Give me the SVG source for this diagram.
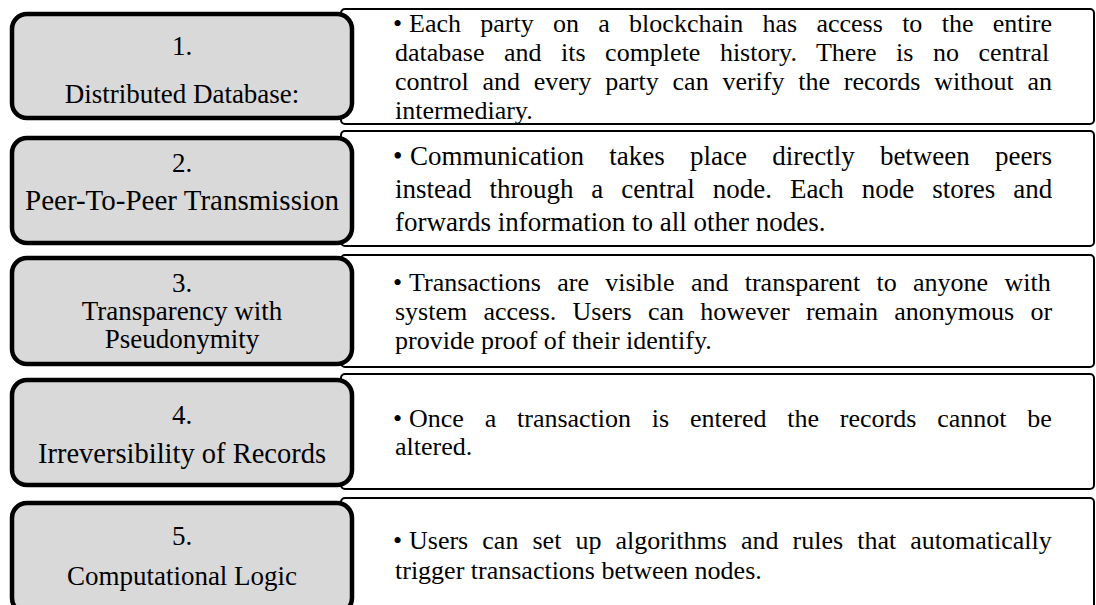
<svg xmlns="http://www.w3.org/2000/svg" width="1096" height="605" viewBox="0 0 1096 605">
<style>
.panel{fill:#ffffff;stroke:#000;stroke-width:2}
.head{fill:#d9d9d9;stroke:#000;stroke-width:4.5}
.ht{font-family:"Liberation Serif","Times New Roman",serif;font-size:27px;fill:#000;text-anchor:middle}
.bt{font-family:"Liberation Serif","Times New Roman",serif;font-size:26px;fill:#000}
.bt2{font-family:"Liberation Serif","Times New Roman",serif;font-size:27px;fill:#000}
</style>
<rect width="1096" height="605" fill="#fff"/>
<g id="item1">
<rect class="panel" x="341" y="9" width="753" height="115" rx="4"/>
<rect class="head" x="12" y="14" width="340" height="104" rx="15"/>
<text class="ht" x="182" y="55">1.</text>
<text class="ht" x="182" y="103">Distributed Database:</text>
<text class="bt" x="393" y="32">•</text>
<text class="bt" x="409" y="32" word-spacing="12.8">Each party on a blockchain has access to the entire</text>
<text class="bt" x="395" y="61" word-spacing="13">database and its complete history. There is no central</text>
<text class="bt" x="395" y="90" word-spacing="7.3">control and every party can verify the records without an</text>
<text class="bt" x="395" y="119">intermediary.</text>
</g>
<g id="item2">
<rect class="panel" x="341" y="131" width="753" height="115" rx="4"/>
<rect class="head" x="12" y="138" width="340" height="105" rx="15"/>
<text class="ht" x="182" y="172">2.</text>
<text class="ht" x="182" y="210" style="font-size:29px">Peer-To-Peer Transmission</text>
<text class="bt2" x="393" y="165">•</text>
<text class="bt2" x="410" y="165" word-spacing="18.5">Communication takes place directly between peers</text>
<text class="bt2" x="395" y="198" word-spacing="11.2">instead through a central node. Each node stores and</text>
<text class="bt2" x="395" y="231">forwards information to all other nodes.</text>
</g>
<g id="item3">
<rect class="panel" x="341" y="255" width="753" height="112" rx="4"/>
<rect class="head" x="12" y="258" width="340" height="106" rx="15"/>
<text class="ht" x="182" y="292">3.</text>
<text class="ht" x="182" y="320">Transparency with</text>
<text class="ht" x="182" y="348">Pseudonymity</text>
<text class="bt" x="393" y="291">•</text>
<text class="bt" x="409" y="291" word-spacing="9.8">Transactions are visible and transparent to anyone with</text>
<text class="bt" x="395" y="320" word-spacing="9.7">system access. Users can however remain anonymous or</text>
<text class="bt" x="395" y="349">provide proof of their identify.</text>
</g>
<g id="item4">
<rect class="panel" x="341" y="374" width="753" height="115" rx="4"/>
<rect class="head" x="12" y="380" width="340" height="105" rx="15"/>
<text class="ht" x="182" y="424">4.</text>
<text class="ht" x="182" y="463" style="font-size:28.5px">Irreversibility of Records</text>
<text class="bt" x="393" y="427">•</text>
<text class="bt" x="409" y="427" word-spacing="14.3">Once a transaction is entered the records cannot be</text>
<text class="bt" x="395" y="455">altered.</text>
</g>
<g id="item5">
<rect class="panel" x="341" y="498" width="753" height="118" rx="4"/>
<rect class="head" x="12" y="503" width="340" height="110" rx="15"/>
<text class="ht" x="182" y="545">5.</text>
<text class="ht" x="182" y="585">Computational Logic</text>
<text class="bt" x="393" y="549">•</text>
<text class="bt" x="409" y="549" word-spacing="7.6">Users can set up algorithms and rules that automatically</text>
<text class="bt" x="395" y="579">trigger transactions between nodes.</text>
</g>
<g id="connectors"></g>
</svg>
